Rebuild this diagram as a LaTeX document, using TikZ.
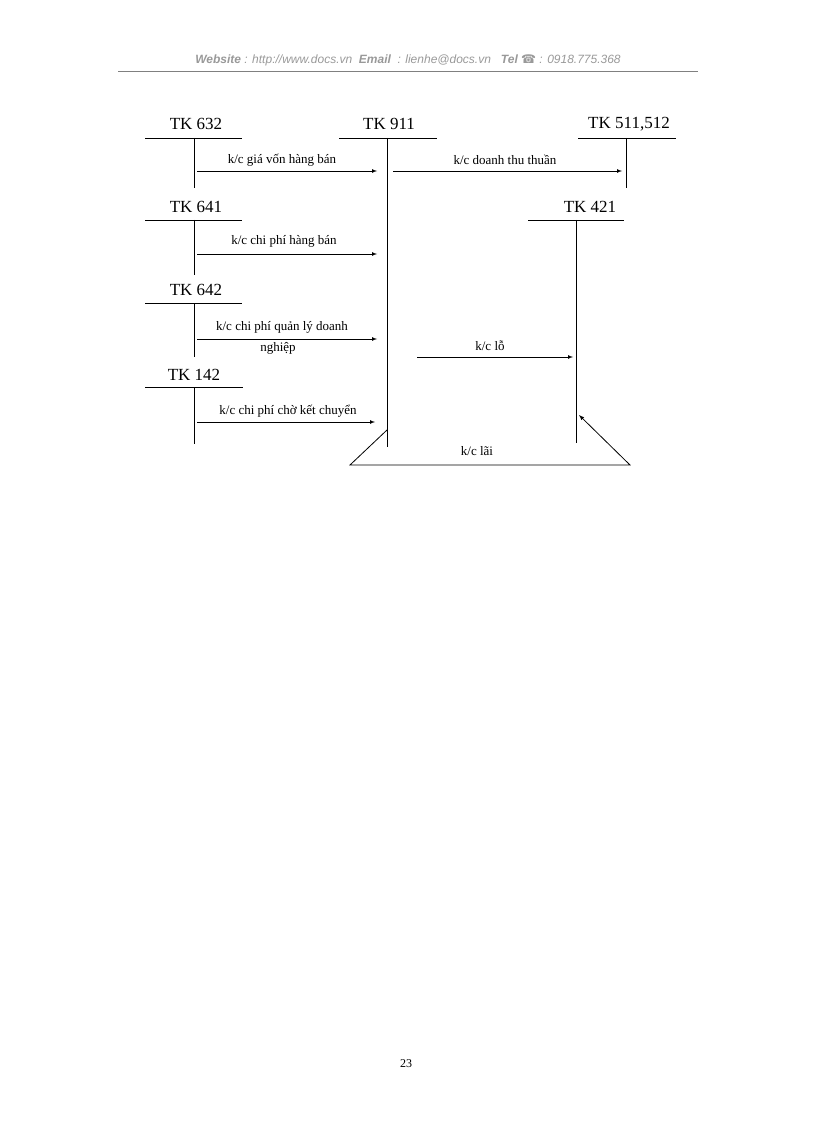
\documentclass[tikz,border=0pt]{standalone}
\usepackage{fontspec}
\setmainfont{Liberation Serif}
\newfontfamily\hdr{Liberation Sans}
\newfontfamily\djsym{DejaVu Sans}
\begin{document}
\begin{tikzpicture}[x=1pt,y=-1pt,
  ttl/.style={font=\fontsize{17}{19}\selectfont,inner sep=0pt},
  lbl/.style={font=\fontsize{13}{15}\selectfont,inner sep=0pt},
  ln/.style={draw=black,line width=0.8pt},
  arr/.style={draw=black,line width=0.7pt,-latex}]
\useasboundingbox (0,0) rectangle (816,1123);
\node[font=\hdr\itshape\fontsize{12}{14}\selectfont,text=gray!80] (hd) at (408,60) {\textbf{Website} : http://www.docs.vn \ \textbf{Email} \ : lienhe@docs.vn \ \ \textbf{Tel} {\djsym\upshape ☎} : 0918.775.368};
\coordinate (hl1) at (118,71); \coordinate (hl2) at (698,71);
\draw[gray,line width=0.8pt] (hl1) -- (hl2);
% titles
\node[ttl] (t632) at (196,124) {TK 632};
\node[ttl] (t911) at (389,124) {TK 911};
\node[ttl] (t511) at (629,124) {TK 511,512};
\node[ttl] (t641) at (196,207) {TK 641};
\node[ttl] (t421) at (590,207) {TK 421};
\node[ttl] (t642) at (196,290) {TK 642};
\node[ttl] (t142) at (194,375) {TK 142};
% T-accounts
\coordinate (a1) at (145,138); \coordinate (a2) at (242,138); \coordinate (at) at (194,138); \coordinate (ab) at (194,188);
\draw[ln] (a1)--(a2) (at)--(ab);
\coordinate (b1) at (339,138); \coordinate (b2) at (437,138); \coordinate (bt) at (387,138); \coordinate (bb) at (387,447);
\draw[ln] (b1)--(b2) (bt)--(bb);
\coordinate (c1) at (578,138); \coordinate (c2) at (676,138); \coordinate (ct) at (626,138); \coordinate (cb) at (626,188);
\draw[ln] (c1)--(c2) (ct)--(cb);
\coordinate (d1) at (145,220); \coordinate (d2) at (242,220); \coordinate (dt) at (194,220); \coordinate (db) at (194,275);
\draw[ln] (d1)--(d2) (dt)--(db);
\coordinate (e1) at (528,220); \coordinate (e2) at (624,220); \coordinate (et) at (576,220); \coordinate (eb) at (576,443);
\draw[ln] (e1)--(e2) (et)--(eb);
\coordinate (f1) at (145,303); \coordinate (f2) at (242,303); \coordinate (ft) at (194,303); \coordinate (fb) at (194,357);
\draw[ln] (f1)--(f2) (ft)--(fb);
\coordinate (g1) at (145,387); \coordinate (g2) at (243,387); \coordinate (gt) at (194,387); \coordinate (gb) at (194,444);
\draw[ln] (g1)--(g2) (gt)--(gb);
% arrows
\coordinate (s1) at (197,171); \coordinate (e1a) at (377,171);
\draw[arr] (s1) -- (e1a);
\node[lbl] (l1) at (282,160) {k/c giá vốn hàng bán};
\coordinate (s2) at (393,171); \coordinate (e2a) at (622,171);
\draw[arr] (s2) -- (e2a);
\node[lbl] (l2) at (505,160) {k/c doanh thu thuần};
\coordinate (s3) at (197,254); \coordinate (e3a) at (377,254);
\draw[arr] (s3) -- (e3a);
\node[lbl] (l3) at (284,241) {k/c chi phí hàng bán};
\coordinate (s4) at (197,339); \coordinate (e4a) at (377,339);
\draw[arr] (s4) -- (e4a);
\node[lbl] (l4) at (282,327) {k/c chi phí quản lý doanh};
\node[lbl] (l4b) at (278,348) {nghiệp};
\coordinate (s5) at (417,357); \coordinate (e5a) at (573,357);
\draw[arr] (s5) -- (e5a);
\node[lbl] (l5) at (490,346) {k/c lỗ};
\coordinate (s6) at (197,422); \coordinate (e6a) at (375,422);
\draw[arr] (s6) -- (e6a);
\node[lbl] (l6) at (288,411) {k/c chi phí chờ kết chuyển};
% profit
\coordinate (p1) at (387,430); \coordinate (p2) at (350,465); \coordinate (p3) at (630,465); \coordinate (p4) at (579,415);
\draw[ln,-latex] (p1) -- (p2) -- (p3) -- (p4);
\node[lbl] (l7) at (477,451) {k/c lãi};
\node[font=\fontsize{12}{14}\selectfont] (pg) at (406,1064) {23};
\end{tikzpicture}
\end{document}
